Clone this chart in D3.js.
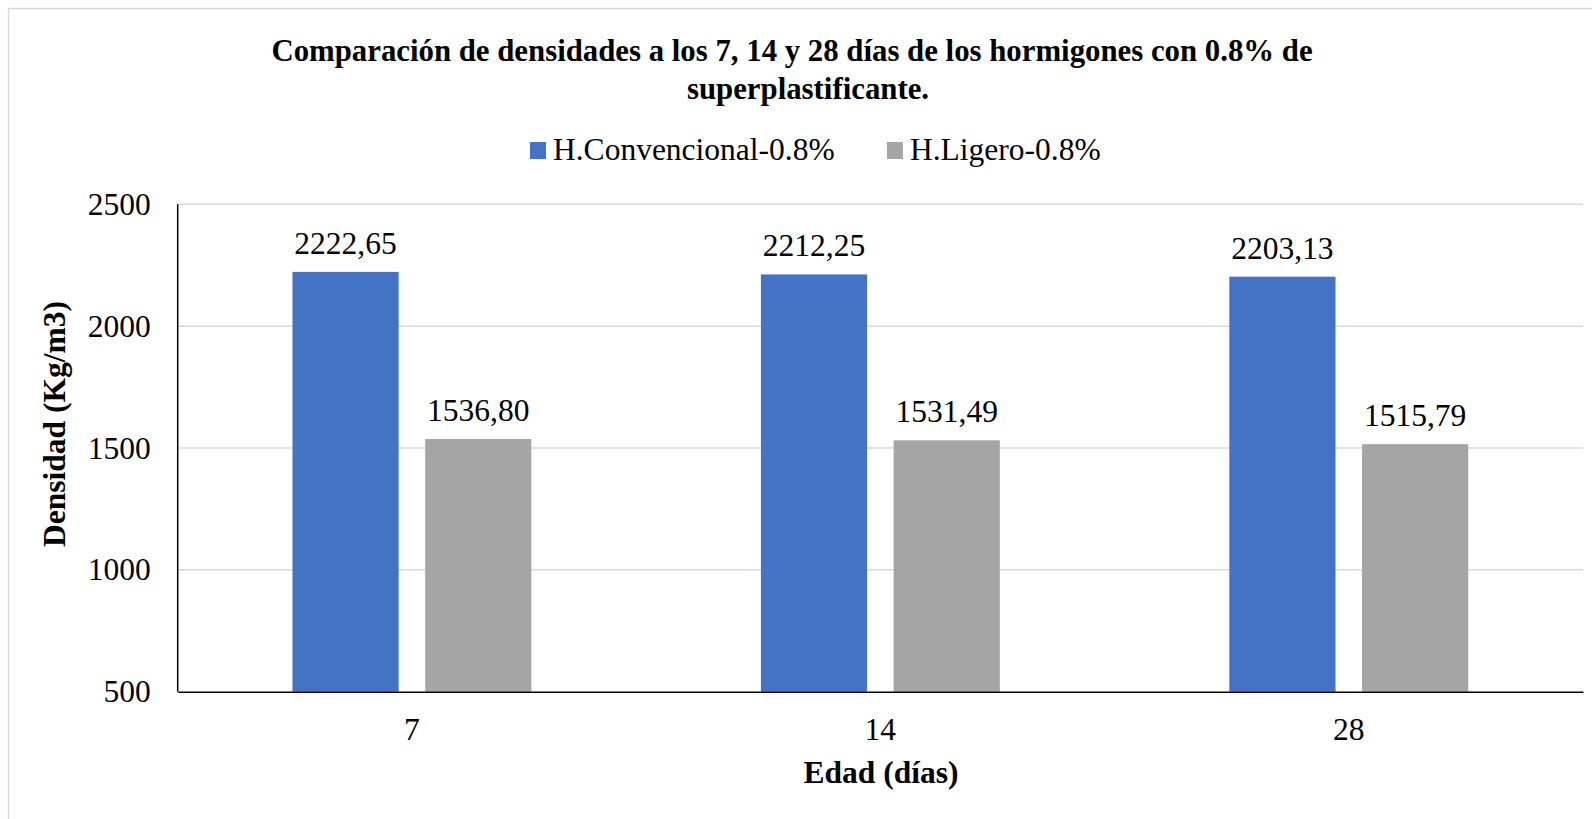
<!DOCTYPE html>
<html>
<head>
<meta charset="utf-8">
<script src="https://cdn.jsdelivr.net/npm/d3@7"></script>
<style>
  html, body { margin: 0; padding: 0; background: #fff; }
  svg text { font-family: "Liberation Serif", "Times New Roman", serif; fill: #000; }
</style>
</head>
<body>
<div id="chart"></div>
<script>
"use strict";

// Data.
const ages = ["7", "14", "28"];
const seriesNames = ["H.Convencional-0.8%", "H.Ligero-0.8%"];
const convencional = [2222.65, 2212.25, 2203.13];
const ligero = [1536.80, 1531.49, 1515.79];
const yTicks = [500, 1000, 1500, 2000, 2500];
const colours = ["#4472C4", "#A5A5A5"];

const width = 1592;
const height = 819;
const serif = "'Liberation Serif', 'Times New Roman', serif";

const plotLeft = 177.7;
const plotRight = 1583;
const plotTop = 204.3;
const plotBottom = 691.7;

let svg = d3.select("#chart")
  .append("svg")
  .attr("width", width)
  .attr("height", height)
  .style("font-family", serif);

// Light outer frame (runs off the right and bottom edges).
svg.append("rect")
  .attr("x", 8.5)
  .attr("y", 8.5)
  .attr("width", width)
  .attr("height", height)
  .attr("fill", "none")
  .attr("stroke", "#d9d9d9")
  .attr("stroke-width", 1.5);

let y = d3.scaleLinear()
  .domain([500, 2500])
  .range([plotBottom, plotTop]);

let x0 = d3.scaleBand()
  .domain(ages)
  .range([plotLeft, plotRight]);

// Two bars share about half of each category band.
let groupWidth = x0.bandwidth() * 0.51;
let x1 = d3.scaleBand()
  .domain(seriesNames)
  .range([0, groupWidth])
  .paddingInner(0.2);

// Gridlines
svg.append("g")
  .selectAll("line")
  .data(yTicks.slice(1))
  .enter()
  .append("line")
  .attr("x1", plotLeft)
  .attr("x2", plotRight)
  .attr("y1", d => y(d))
  .attr("y2", d => y(d))
  .attr("stroke", "#d9d9d9")
  .attr("stroke-width", 1.5);

// Y axis, labels only through d3.axisLeft, line drawn by hand below.
let yAxis = svg.append("g")
  .attr("transform", `translate(${plotLeft},0)`)
  .call(d3.axisLeft(y).tickValues(yTicks).tickSize(0).tickPadding(27).tickFormat(d3.format("d")));
yAxis.attr("font-family", null);
yAxis.select(".domain").remove();
yAxis.selectAll("text")
  .style("font-family", serif)
  .style("font-size", "31.5px");

// Bars
let rows = ages.map((age, i) => ({ age: age, values: [convencional[i], ligero[i]] }));

let groups = svg.append("g")
  .selectAll("g")
  .data(rows)
  .enter()
  .append("g")
  .attr("transform", d => `translate(${x0(d.age) + (x0.bandwidth() - groupWidth) / 2},0)`);

groups.selectAll("rect")
  .data(d => d.values.map((v, j) => ({ name: seriesNames[j], value: v, colour: colours[j] })))
  .enter()
  .append("rect")
  .attr("x", d => x1(d.name))
  .attr("y", d => y(d.value))
  .attr("width", x1.bandwidth())
  .attr("height", d => plotBottom - y(d.value))
  .attr("fill", d => d.colour);

// Value labels, comma decimal separator.
groups.selectAll("text.value")
  .data(d => d.values.map((v, j) => ({ name: seriesNames[j], value: v })))
  .enter()
  .append("text")
  .attr("class", "value")
  .attr("x", d => x1(d.name) + x1.bandwidth() / 2)
  .attr("y", d => y(d.value) - 18)
  .attr("text-anchor", "middle")
  .style("font-family", serif)
  .style("font-size", "31.5px")
  .text(d => d.value.toFixed(2).replace(".", ","));

// Axis lines
svg.append("line")
  .attr("x1", plotLeft).attr("x2", plotLeft)
  .attr("y1", plotTop).attr("y2", plotBottom)
  .attr("stroke", "#000").attr("stroke-width", 1.5);

let xAxis = svg.append("g")
  .attr("transform", `translate(0,${plotBottom})`)
  .call(d3.axisBottom(x0).tickSize(0).tickPadding(26));
xAxis.attr("font-family", null);
xAxis.select(".domain")
  .attr("stroke", "#000")
  .attr("stroke-width", 1.5);
xAxis.selectAll("text")
  .style("font-family", serif)
  .style("font-size", "31.5px");

// Titles
svg.append("text")
  .attr("x", 792)
  .attr("y", 61)
  .attr("text-anchor", "middle")
  .style("font-family", serif)
  .style("font-size", "30.8px")
  .style("font-weight", "bold")
  .text("Comparación de densidades a los 7, 14 y 28 días de los hormigones con 0.8% de");

svg.append("text")
  .attr("x", 808)
  .attr("y", 99)
  .attr("text-anchor", "middle")
  .style("font-family", serif)
  .style("font-size", "30.8px")
  .style("font-weight", "bold")
  .text("superplastificante.");

svg.append("text")
  .attr("x", 881)
  .attr("y", 783)
  .attr("text-anchor", "middle")
  .style("font-family", serif)
  .style("font-size", "31.5px")
  .style("font-weight", "bold")
  .text("Edad (días)");

svg.append("text")
  .attr("transform", "translate(65,424) rotate(-90)")
  .attr("text-anchor", "middle")
  .style("font-family", serif)
  .style("font-size", "31.5px")
  .style("font-weight", "bold")
  .text("Densidad (Kg/m3)");

// Legend
let legendX = [530, 887];
let legend = svg.append("g")
  .selectAll("g")
  .data(seriesNames)
  .enter()
  .append("g")
  .attr("transform", (d, i) => `translate(${legendX[i]},142)`);

legend.append("rect")
  .attr("width", 16)
  .attr("height", 17)
  .attr("fill", (d, i) => colours[i]);

legend.append("text")
  .attr("x", 23)
  .attr("y", 18)
  .style("font-family", serif)
  .style("font-size", "31.5px")
  .text(d => d);
</script>
</body>
</html>
